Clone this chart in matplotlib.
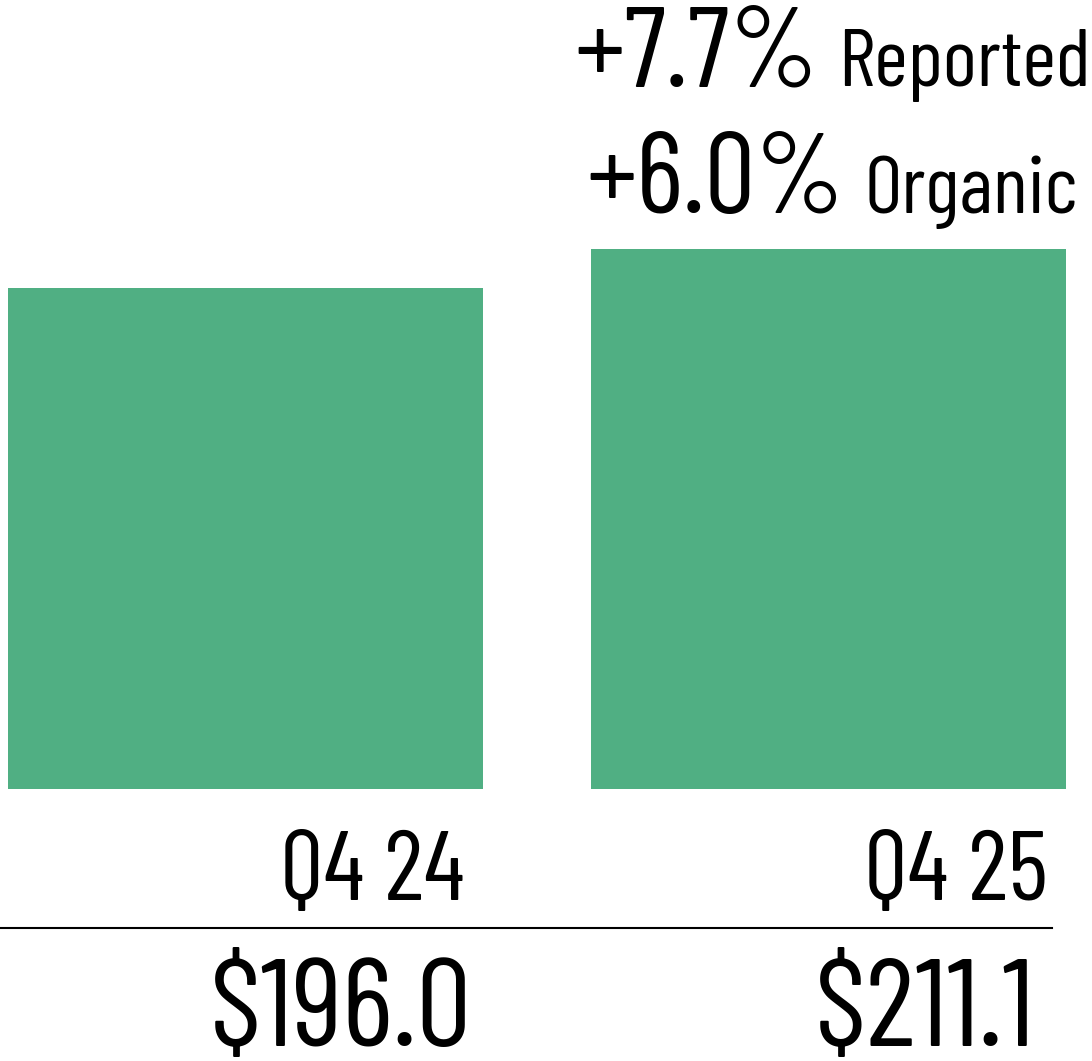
import matplotlib
matplotlib.use("Agg")
import matplotlib.pyplot as plt
from matplotlib.lines import Line2D

# data
quarters = ["Q4 24", "Q4 25"]
revenue = [196.0, 211.1]
value_labels = ["$196.0", "$211.1"]
growth_pct = ["+7.7%", "+6.0%"]
growth_kind = ["Reported", "Organic"]

plt.rcParams['font.family'] = ['Barlow Condensed', 'DejaVu Sans']
plt.rcParams['font.weight'] = 400

BAR_COLOR = "#50AF83"
W, H = 1092, 1061
DPI = 100

fig = plt.figure(figsize=(W / DPI, H / DPI), dpi=DPI)
ax = fig.add_axes([0, 272 / H, 1, 789 / H])

x = [0, 1]
width = 0.815
ax.bar(x, revenue, width=width, color=BAR_COLOR)
ax.set_xlim(-0.421, 1.452)
ax.set_ylim(0, 308.7)
ax.axis("off")

# quarter labels under the bars
for xi, q in zip(x, quarters):
    ax.annotate(q, xy=(xi + width / 2, 0), xycoords="data",
                xytext=(-18, -111), textcoords="offset pixels",
                ha="right", va="baseline", fontsize=71, color="black")

# separator line
fig.add_artist(Line2D([0, 1052 / W], [1 - 928 / H, 1 - 928 / H],
                      color="black", linewidth=1.5))

# values under the line
for xi, v in zip(x, value_labels):
    ax.annotate(v, xy=(xi, 0), xycoords="data",
                xytext=(96, -257), textcoords="offset pixels",
                ha="center", va="baseline", fontsize=89, color="black")

# growth annotations above second bar (big pct + smaller word, centered)
renderer = fig.canvas.get_renderer()
offsets = [163, 36]
gap = 20
for pct, kind, yoff in zip(growth_pct, growth_kind, offsets):
    t1 = ax.annotate(pct, xy=(x[1], revenue[1]), xycoords="data",
                     xytext=(0, yoff), textcoords="offset pixels",
                     ha="left", va="baseline", fontsize=82)
    t2 = ax.annotate(kind, xy=(x[1], revenue[1]), xycoords="data",
                     xytext=(0, yoff), textcoords="offset pixels",
                     ha="left", va="baseline", fontsize=59)
    w1 = t1.get_window_extent(renderer).width
    w2 = t2.get_window_extent(renderer).width
    total = w1 + gap + w2
    t1.xyann = (-total / 2 + 4, yoff)
    t2.xyann = (-total / 2 + 4 + w1 + gap, yoff)

fig.savefig("out.png", dpi=DPI)
